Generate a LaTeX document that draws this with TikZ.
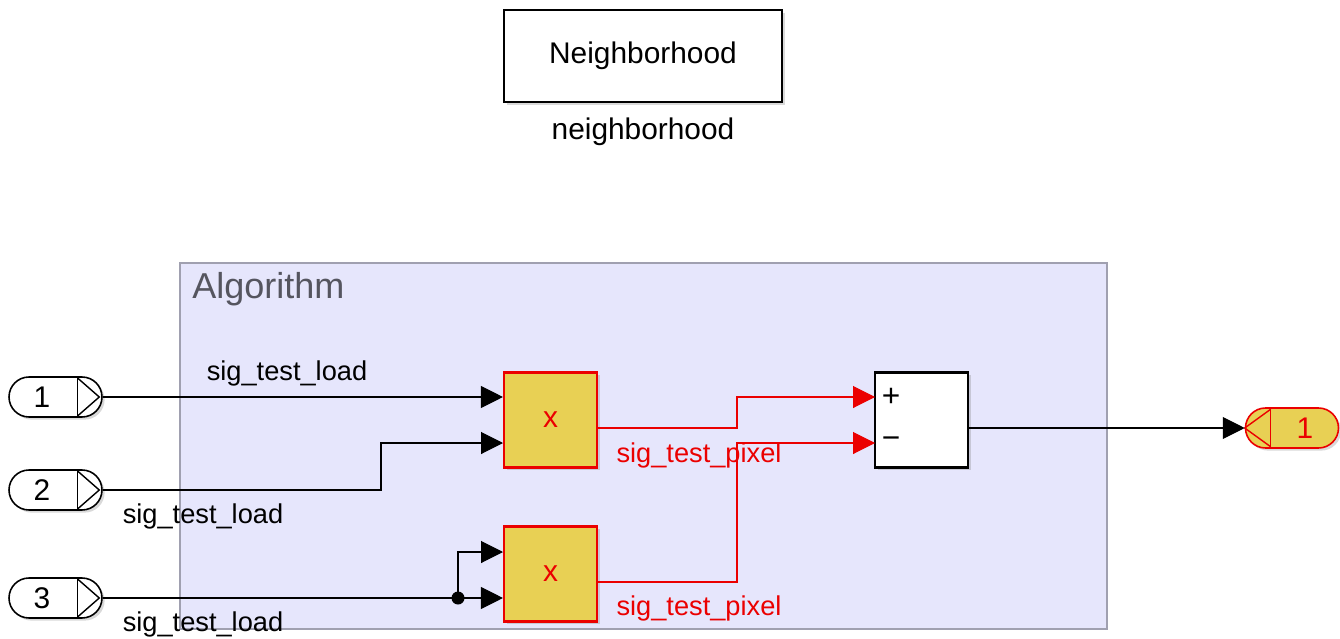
\documentclass[tikz,border=0pt]{standalone}
\usepackage{fontspec}
\setmainfont{Liberation Sans}
\usetikzlibrary{arrows.meta, positioning, shadows}
\definecolor{algfill}{RGB}{230,230,252}
\definecolor{algedge}{RGB}{160,160,176}
\definecolor{algtext}{RGB}{85,85,95}
\definecolor{sigred}{RGB}{235,0,0}
\definecolor{prodfill}{RGB}{232,208,84}
\tikzset{
  shd/.style={drop shadow={shadow xshift=1.5pt, shadow yshift=-1.5pt, opacity=0.3}},
  blk/.style={draw=black, line width=1.2pt, fill=white, minimum width=1.86cm,
    minimum height=1.9cm, inner sep=0pt, shd},
  prod/.style={blk, draw=sigred, fill=prodfill, text=sigred,
    font=\fontsize{17}{20}\selectfont},
  port/.style={draw=black, line width=0.9pt, fill=white, rounded corners=0.4cm,
    minimum width=1.86cm, minimum height=0.8cm, inner sep=0pt, shd},
  outport/.style={port, draw=sigred, fill=prodfill},
  num/.style={font=\fontsize{17}{20}\selectfont},
  lbl/.style={font=\fontsize{15.5}{18}\selectfont, inner sep=0pt},
  rlbl/.style={lbl, text=sigred},
  sig/.style={draw=black, line width=0.6pt, -{Triangle[length=12.5pt, width=12.5pt]}},
  rsig/.style={sig, draw=sigred, -{Triangle[length=12.5pt, width=12.5pt, fill=sigred]}},
}

\begin{document}
\begin{tikzpicture}[x=0.02cm, y=-0.02cm]
  \useasboundingbox (0,0) rectangle (1340,639);
  % top block
  \node[blk, minimum width=5.56cm, minimum height=1.84cm, font=\fontsize{17}{20}\selectfont]
    (nb) at (643,56) {Neighborhood};
  \node[lbl, font=\fontsize{17}{20}\selectfont] (nbl) at (643,132) {neighborhood};
  % area
  \node[draw=algedge, fill=algfill, line width=0.8pt, minimum width=18.54cm,
    minimum height=7.32cm, inner sep=0pt] (alg) at (643.5,446) {};
  \node[font=\fontsize{20.5}{24}\selectfont, text=algtext, anchor=west, inner sep=0pt]
    (algt) at (192,289) {Algorithm};
  % inports
  \foreach \i/\y in {1/397, 2/490, 3/598} {
    \node[port] (in\i) at (55.5,\y) {};
    \node[num] (n\i) at (42,\y) {\i};
    \draw[line width=0.8pt] ([xshift=-0.5cm]in\i.north east) -- ([xshift=-0.5cm]in\i.south east);
    \draw[line width=0.8pt] ([xshift=-0.5cm, yshift=-0.04cm]in\i.north east)
      -- ([xshift=-0.07cm]in\i.east) -- ([xshift=-0.5cm, yshift=0.04cm]in\i.south east);
  }
  % outport
  \node[outport] (out) at (1292,428) {};
  \node[num, text=sigred] (n4) at (1305,428) {1};
  \draw[sigred, line width=0.8pt] ([xshift=0.52cm]out.north west) -- ([xshift=0.52cm]out.south west);
  \draw[sigred, line width=0.8pt] ([xshift=0.52cm, yshift=-0.04cm]out.north west)
    -- (out.west) -- ([xshift=0.52cm, yshift=0.04cm]out.south west);
  % blocks
  \node[prod] (p1) at (550.5,420) {x};
  \node[prod] (p2) at (550.5,574) {x};
  \node[blk] (sum) at (921.5,420) {};
  \node[font=\fontsize{18}{20}\selectfont, inner sep=0pt] (plus) at (891,397) {+};
  \node[font=\fontsize{18}{20}\selectfont, inner sep=0pt] (minus) at (891,443) {−};
  % ports
  \coordinate (p1b) at (503,443);
  \coordinate (p2a) at (503,552);
  \coordinate (p1o) at (597,428);
  \coordinate (p2o) at (597,582);
  \coordinate (s1) at (875,397);
  \coordinate (s2) at (875,443);
  \coordinate (so) at (968,428);
  \coordinate (br) at (458,598);
  % signals
  \draw[sig] (in1.east) -- (in1.east -| p1.west);
  \draw[sig] (in2.east) -- (381,490) |- (p1b);
  \draw[sig] (in3.east) -- (in3.east -| p2.west);
  \draw[sig] (br) |- (p2a);
  \fill (br) circle (6.5);
  \draw[rsig] (p1o) -- (737,428) |- (s1);
  \draw[rsig] (p2o) -- (737,582) |- (s2);
  \draw[sig] (so) -- (out.west);
  % labels
  \node[lbl] (l1) at (287,373) {sig\_test\_load};
  \node[lbl] (l2) at (203,516) {sig\_test\_load};
  \node[lbl] (l3) at (203,624) {sig\_test\_load};
  \node[rlbl] (l4) at (699,455) {sig\_test\_pixel};
  \node[rlbl] (l5) at (699,608) {sig\_test\_pixel};
\end{tikzpicture}
\end{document}
